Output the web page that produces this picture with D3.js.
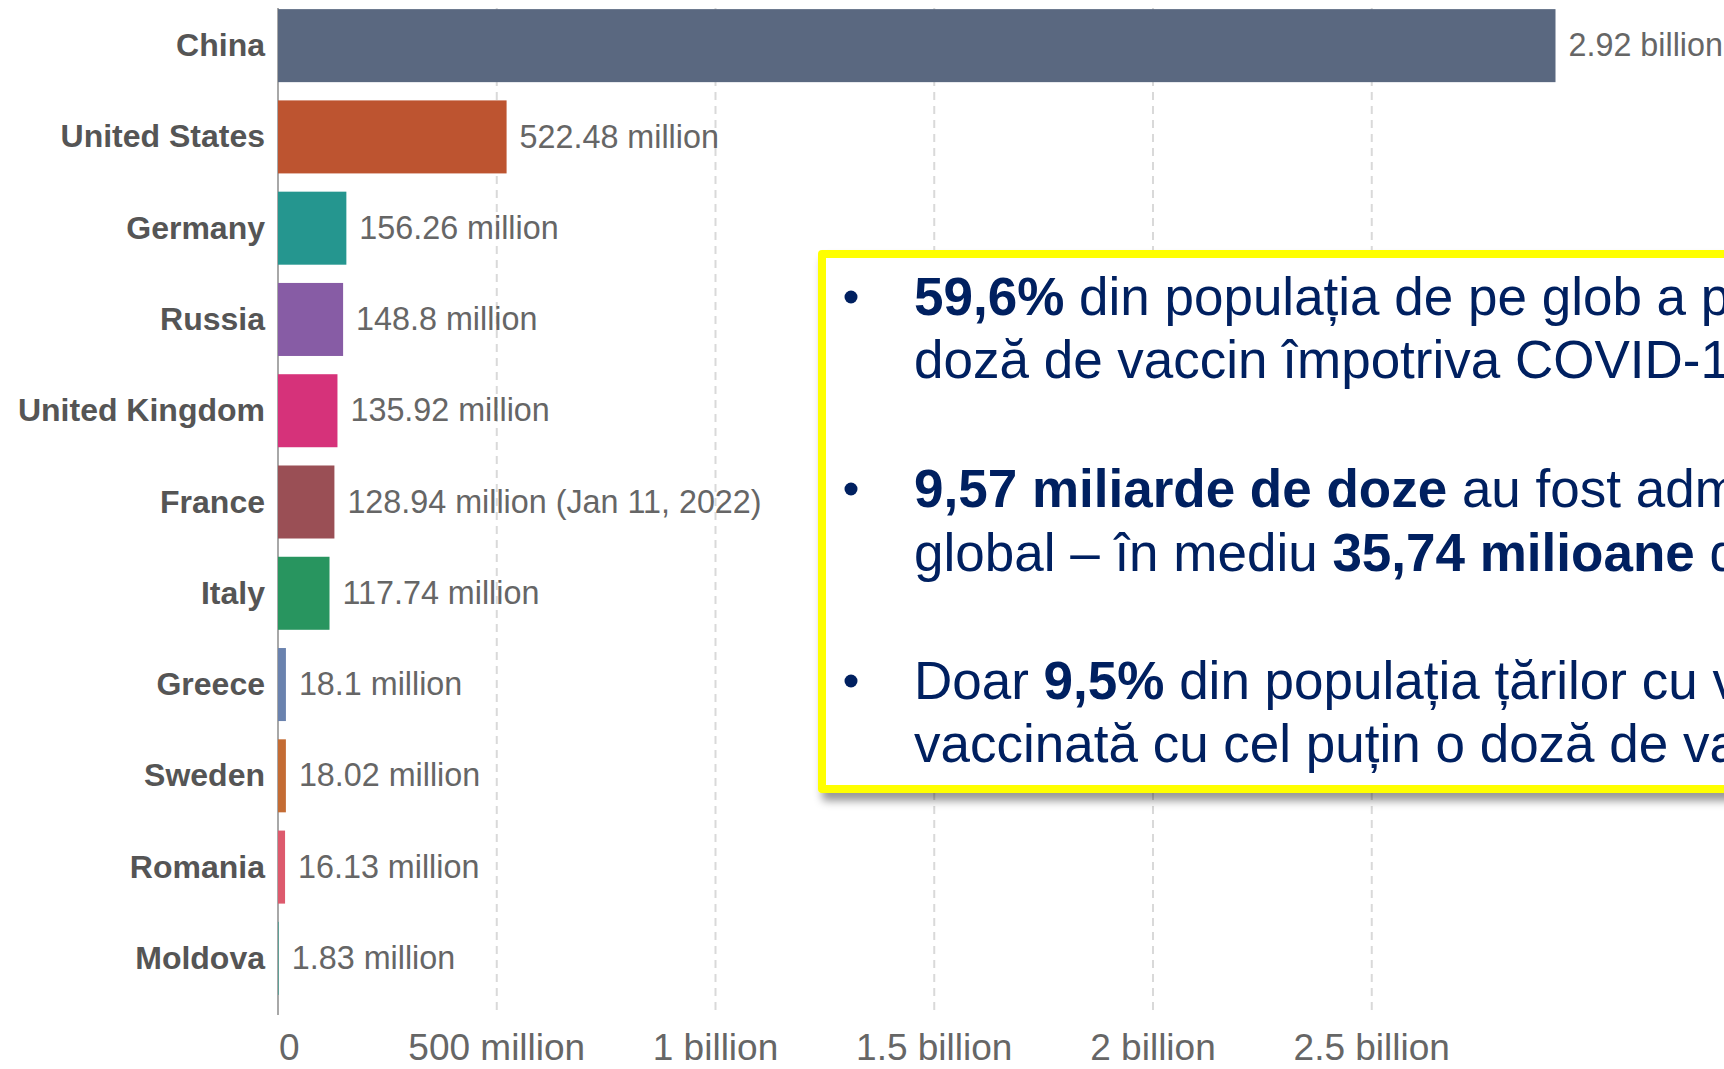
<!DOCTYPE html>
<html>
<head>
<meta charset="utf-8">
<script src="https://cdn.jsdelivr.net/npm/d3@7"></script>
<style>
  html, body { margin: 0; padding: 0; background: #fff; overflow: hidden; }
  svg { display: block; font-family: "Liberation Sans", Arial, sans-serif; }
</style>
</head>
<body>
<script>
// data
var countries = ["China", "United States", "Germany", "Russia", "United Kingdom", "France",
                 "Italy", "Greece", "Sweden", "Romania", "Moldova"];
var doses = [2.92e9, 522.48e6, 156.26e6, 148.8e6, 135.92e6, 128.94e6,
             117.74e6, 18.1e6, 18.02e6, 16.13e6, 1.83e6];
var valueLabels = ["2.92 billion", "522.48 million", "156.26 million", "148.8 million",
                   "135.92 million", "128.94 million (Jan 11, 2022)", "117.74 million",
                   "18.1 million", "18.02 million", "16.13 million", "1.83 million"];
var barColors = ["#5a6880", "#bd5430", "#25968f", "#875ca5", "#d6327a", "#9a4f55",
                 "#28955f", "#6a82ae", "#c46c34", "#dd5a6d", "#4e9d92"];
var tickValues = [0, 0.5e9, 1e9, 1.5e9, 2e9, 2.5e9];
var tickLabels = ["0", "500 million", "1 billion", "1.5 billion", "2 billion", "2.5 billion"];

// bullet text, each line is a list of [text, bold]
var bulletLines = [
    [[["59,6%", true], [" din populația de pe glob a primit cel puțin o", false]],
     [["doză de vaccin împotriva COVID-19", false]]],
    [[["9,57 miliarde de doze", true], [" au fost administrate", false]],
     [["global – în mediu ", false], ["35,74 milioane", true], [" de doze pe zi", false]]],
    [[["Doar ", false], ["9,5%", true], [" din populația țărilor cu venituri mici a fost", false]],
     [["vaccinată cu cel puțin o doză de vaccin", false]]]
];

// size of the page
var width = 1724, height = 1069;
var axisTop = 8, axisBottom = 1015;

var x = d3.scaleLinear().domain([0, 3e9]).range([278, 1590.5]);
var y = d3.scaleBand().domain(countries).range([0, 1004]).paddingInner(0.2).paddingOuter(0.1);

var svg = d3.select("body").append("svg")
    .attr("width", width)
    .attr("height", height);

var defs = svg.append("defs");
var shadow = defs.append("filter").attr("id", "shadow")
    .attr("x", "-5%").attr("y", "-5%").attr("width", "115%").attr("height", "120%");
shadow.append("feDropShadow")
    .attr("dx", 4).attr("dy", 8).attr("stdDeviation", 4)
    .attr("flood-color", "#000").attr("flood-opacity", 0.4);

// dashed gridlines
svg.append("g").selectAll("line")
    .data(tickValues.slice(1))
    .enter().append("line")
    .attr("x1", function(d) { return x(d); })
    .attr("x2", function(d) { return x(d); })
    .attr("y1", axisTop)
    .attr("y2", axisBottom)
    .style("stroke", "#d9d9d9")
    .style("stroke-width", 2)
    .style("stroke-dasharray", "8,6");

// axis line at zero
svg.append("line")
    .attr("x1", x(0)).attr("x2", x(0))
    .attr("y1", axisTop).attr("y2", axisBottom)
    .style("stroke", "#a8a8a8")
    .style("stroke-width", 2);

// bars
svg.append("g").selectAll("rect")
    .data(countries)
    .enter().append("rect")
    .attr("x", x(0))
    .attr("y", function(d) { return y(d); })
    .attr("width", function(d, i) { return x(doses[i]) - x(0); })
    .attr("height", y.bandwidth())
    .style("fill", function(d, i) { return barColors[i]; });

// country names
svg.append("g").selectAll("text")
    .data(countries)
    .enter().append("text")
    .attr("x", 265)
    .attr("y", function(d) { return y(d) + y.bandwidth() / 2; })
    .attr("dy", "0.33em")
    .attr("text-anchor", "end")
    .style("font-size", "32px")
    .style("font-weight", "bold")
    .style("fill", "#555")
    .text(function(d) { return d; });

// value labels
svg.append("g").selectAll("text")
    .data(countries)
    .enter().append("text")
    .attr("x", function(d, i) { return x(doses[i]) + 13; })
    .attr("y", function(d) { return y(d) + y.bandwidth() / 2; })
    .attr("dy", "0.33em")
    .style("font-size", "32.3px")
    .style("fill", "#666")
    .text(function(d, i) { return valueLabels[i]; });

// bottom tick labels
svg.append("g").selectAll("text")
    .data(tickValues)
    .enter().append("text")
    .attr("x", function(d, i) { return i === 0 ? x(d) + 1 : x(d); })
    .attr("y", 1060)
    .attr("text-anchor", function(d, i) { return i === 0 ? "start" : "middle"; })
    .style("font-size", "37px")
    .style("fill", "#666")
    .text(function(d, i) { return tickLabels[i]; });

// yellow text box
var box = svg.append("g");
box.append("rect")
    .attr("x", 822)
    .attr("y", 254)
    .attr("width", 1000)
    .attr("height", 535)
    .attr("stroke-linejoin", "round")
    .style("fill", "#fff")
    .style("stroke", "#ffff00")
    .style("stroke-width", 8)
    .attr("filter", "url(#shadow)");

var baselines = [[315, 378], [507, 571], [699, 762]];
bulletLines.forEach(function(lines, b) {
    box.append("circle")
        .attr("cx", 851)
        .attr("cy", baselines[b][0] - 18)
        .attr("r", 6.5)
        .style("fill", "#002060");
    lines.forEach(function(parts, l) {
        var t = box.append("text")
            .attr("x", 914)
            .attr("y", baselines[b][l])
            .style("font-size", "53px")
            .style("fill", "#002060");
        parts.forEach(function(p) {
            t.append("tspan")
                .style("font-weight", p[1] ? "bold" : "normal")
                .text(p[0]);
        });
    });
});
</script>
</body>
</html>
